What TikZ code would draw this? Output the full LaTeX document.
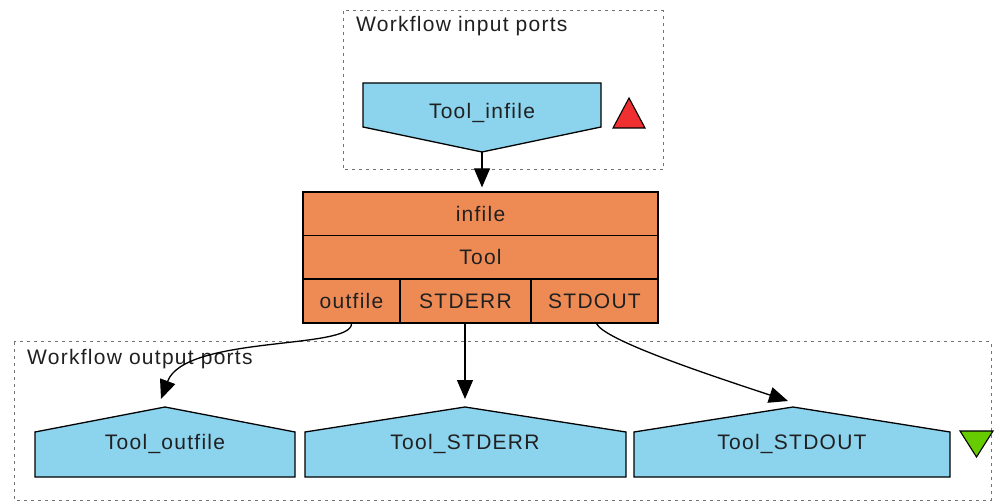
\documentclass[tikz,border=0pt]{standalone}
\usepackage{fontspec}
\setmainfont[LetterSpace=6]{Liberation Sans}
\usetikzlibrary{arrows.meta}
\definecolor{portblue}{HTML}{8CD3EE}
\definecolor{procorange}{HTML}{EE8B55}
\definecolor{inred}{HTML}{F03030}
\definecolor{outgreen}{HTML}{66CC00}
\definecolor{txt}{HTML}{202020}
\tikzset{
  cluster/.style={draw=black!55, line width=1pt, dash pattern=on 3pt off 4pt},
  clusterlabel/.style={anchor=base west, inner sep=0pt, text=txt, font=\fontsize{21}{24}\selectfont},
  portshape/.style={draw=black, fill=portblue, line width=1.3pt, line join=miter},
  porttext/.style={inner sep=0pt, text=txt, font=\fontsize{21}{24}\selectfont},
  cell/.style={draw=black, fill=procorange, line width=1.3pt, inner sep=0pt, text=txt, font=\fontsize{21}{24}\selectfont},
  flow/.style={draw=black, line width=1.3pt, -{Triangle[length=19pt,width=16pt]}},
  marker/.style={draw=black, line width=1.1pt, line join=miter}
}
\begin{document}
\begin{tikzpicture}[x=1pt,y=-1pt]
\useasboundingbox (0,0) rectangle (998,502);
% clusters
\draw[cluster] (343,11) rectangle (663,170);
\node[clusterlabel] (inlabel) at (356,32) {Workflow input ports};
\draw[cluster] (14,342) rectangle (991,500);
\node[clusterlabel] (outlabel) at (27,364) {Workflow output ports};
% input port
\path[portshape] (363,83) -- (601,83) -- (601,127) -- (482,152) -- (363,127) -- cycle;
\coordinate (intip) at (482,152);
\node[porttext] (infile) at (482,113) {Tool\_infile};
\path[marker, fill=inred] (613,128) -- (645,128) -- (629,98) -- cycle;
% processor
\node[cell, minimum width=355pt, minimum height=43.5pt] (inrow) at (480.5,213.75) {infile};
\node[cell, minimum width=355pt, minimum height=43.5pt] (toolrow) at (480.5,257.25) {Tool};
\node[cell, minimum width=97pt, minimum height=44pt] (outcell) at (351.5,301) {outfile};
\node[cell, minimum width=131pt, minimum height=44pt] (errcell) at (465.5,301) {STDERR};
\node[cell, minimum width=127pt, minimum height=44pt] (outcell2) at (594.5,301) {STDOUT};
% output ports
\path[portshape] (35,477) -- (35,432) -- (165,407) -- (295,432) -- (295,477) -- cycle;
\coordinate (o1tip) at (165,407);
\node[porttext] (o1) at (165,444) {Tool\_outfile};
\path[portshape] (305,477) -- (305,432) -- (465,407) -- (626,432) -- (626,477) -- cycle;
\coordinate (o2tip) at (465,407);
\node[porttext] (o2) at (465,444) {Tool\_STDERR};
\path[portshape] (634,477) -- (634,432) -- (793,407) -- (950,432) -- (950,477) -- cycle;
\coordinate (o3tip) at (793,407);
\node[porttext] (o3) at (792,444) {Tool\_STDOUT};
\path[marker, fill=outgreen] (960,431) -- (993,431) -- (976.5,457) -- cycle;
% connectors
\draw[flow] (intip) -- ([shift={(0,-4)}]intip |- inrow.north);
\draw[flow] (outcell.south) .. controls (352,350) and (185,335) .. ([shift={(-4,-8)}]o1tip);
\draw[flow] (errcell.south -| o2tip) -- ([shift={(0,-8)}]o2tip);
\draw[flow] ([xshift=2pt]outcell2.south) .. controls (605,340) and (700,372) .. ([shift={(-5,-6)}]o3tip);
\end{tikzpicture}
\end{document}
